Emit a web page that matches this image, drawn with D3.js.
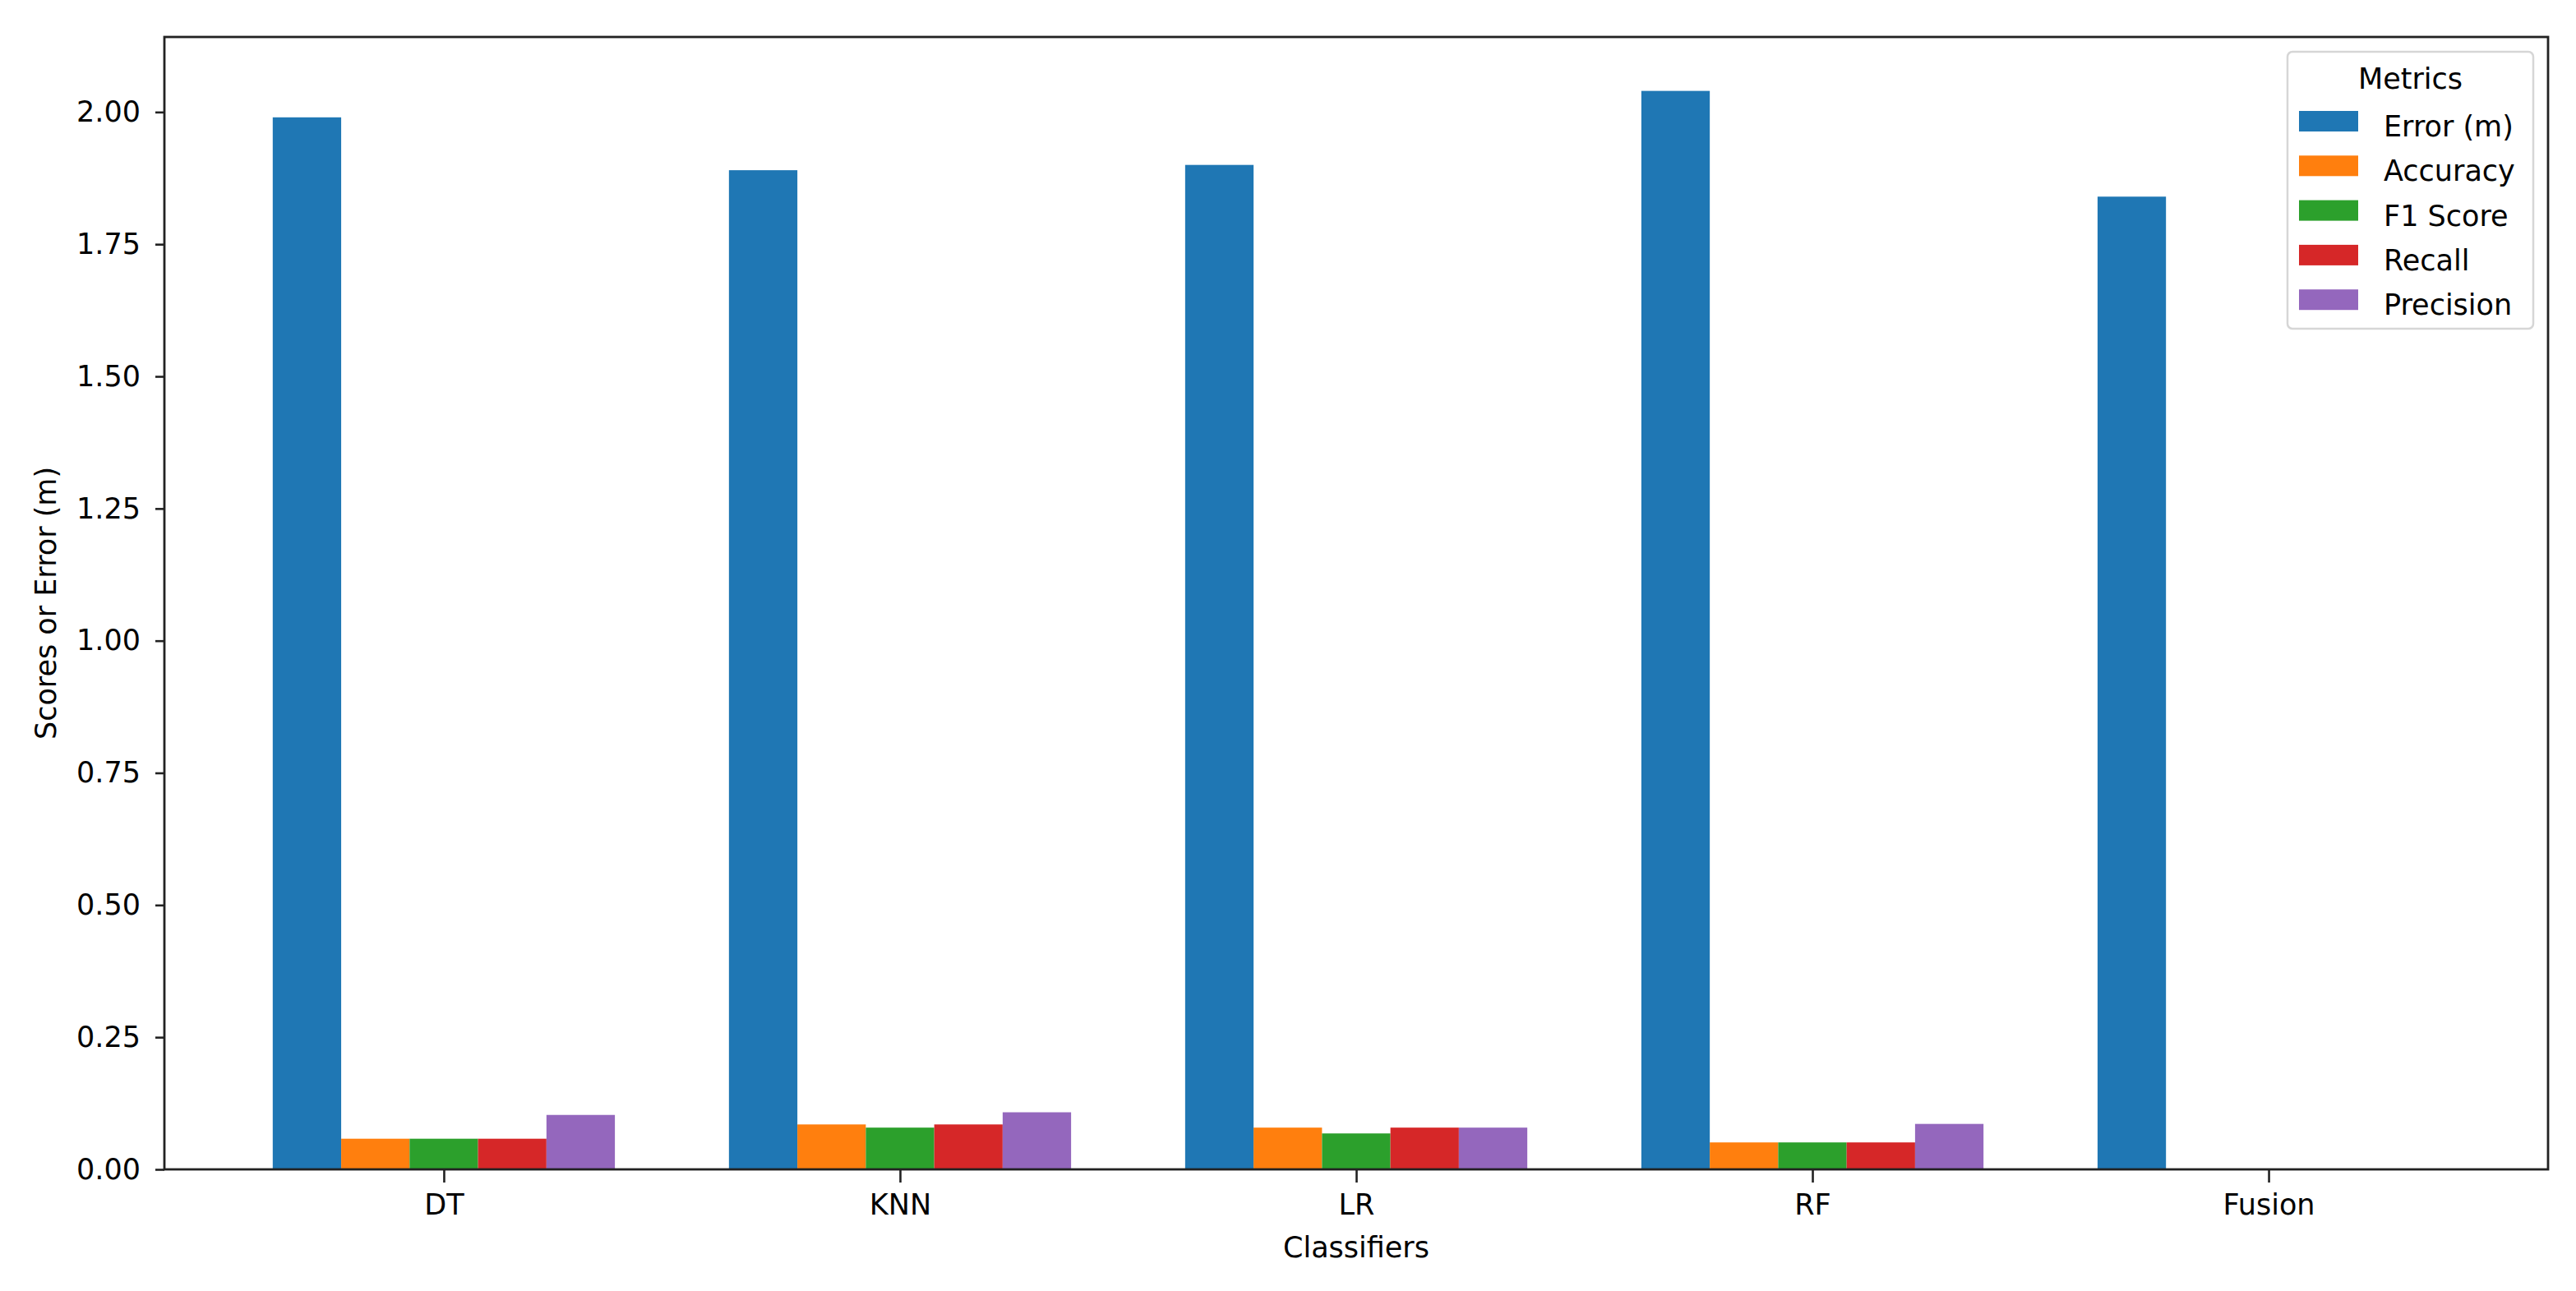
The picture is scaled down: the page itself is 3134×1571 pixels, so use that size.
<!DOCTYPE html>
<html>
<head>
<meta charset="utf-8">
<script src="https://cdn.jsdelivr.net/npm/d3@7"></script>
<style>
  body { margin: 0; background: #fff; }
  text { font-family: "DejaVu Sans", sans-serif; fill: #000; }
</style>
</head>
<body>
<div id="vis"></div>
<script>
// values
var classifiers = ["DT", "KNN", "LR", "RF", "Fusion"];
var metrics = ["Error (m)", "Accuracy", "F1 Score", "Recall", "Precision"];
var errorVals = [1.99, 1.89, 1.90, 2.04, 1.84];
var accuracyVals = [0.058, 0.085, 0.079, 0.051, 0];
var f1Vals = [0.058, 0.079, 0.068, 0.051, 0];
var recallVals = [0.058, 0.085, 0.079, 0.051, 0];
var precisionVals = [0.103, 0.108, 0.079, 0.086, 0];
var yTicks = [0, 0.25, 0.5, 0.75, 1.0, 1.25, 1.5, 1.75, 2.0];
var colors = ["#1f77b4", "#ff7f0e", "#2ca02c", "#d62728", "#9467bd"];

var series = [errorVals, accuracyVals, f1Vals, recallVals, precisionVals];

var width = 3134;
var height = 1571;
var plot = { left: 200, right: 3100, top: 45, bottom: 1423 };
var barW = 0.15;
var fontSize = 35;

var svg = d3.select('#vis')
    .append('svg')
    .attr('width', width)
    .attr('height', height);

// matplotlib style margins: 5% on each side of the bar extent
var lo = -2.5 * barW, hi = classifiers.length - 1 + 2.5 * barW;
var pad = (hi - lo) * 0.05;
var x = d3.scaleLinear()
    .domain([lo - pad, hi + pad])
    .range([plot.left, plot.right]);

var yMax = d3.max(series, (s) => d3.max(s)) * 1.05;
var y = d3.scaleLinear()
    .domain([0, yMax])
    .range([plot.bottom, plot.top]);

// bars
var bars = [];
series.forEach((vals, i) => {
    vals.forEach((v, j) => {
        bars.push({ metric: i, cls: j, value: v });
    });
});

svg.append('g')
    .selectAll('rect')
    .data(bars)
    .enter()
    .append('rect')
    .attr('x', (d) => x(d.cls + (d.metric - 2) * barW - barW / 2))
    .attr('width', x(barW) - x(0))
    .attr('y', (d) => y(d.value))
    .attr('height', (d) => y(0) - y(d.value))
    .attr('fill', (d) => colors[d.metric]);

// axes
var xAxis = d3.axisBottom(x)
    .tickValues(d3.range(classifiers.length))
    .tickFormat((d) => classifiers[d])
    .tickSize(16)
    .tickPadding(14);

var yAxis = d3.axisLeft(y)
    .tickValues(yTicks)
    .tickFormat(d3.format('.2f'))
    .tickSize(11)
    .tickPadding(18);

var gx = svg.append('g')
    .attr('transform', 'translate(0,' + plot.bottom + ')')
    .call(xAxis);

var gy = svg.append('g')
    .attr('transform', 'translate(' + plot.left + ',0)')
    .call(yAxis);

[gx, gy].forEach((g) => {
    g.select('.domain').remove();
    g.selectAll('.tick line').attr('stroke', '#222').attr('stroke-width', 2.6);
    g.selectAll('.tick text')
        .style('font-size', fontSize + 'px')
        .style('font-family', '"DejaVu Sans", sans-serif')
        .attr('fill', '#000');
});

// frame
svg.append('rect')
    .attr('x', plot.left)
    .attr('y', plot.top)
    .attr('width', plot.right - plot.left)
    .attr('height', plot.bottom - plot.top)
    .attr('fill', 'none')
    .attr('stroke', '#222')
    .attr('stroke-width', 2.8);

// axis titles
svg.append('text')
    .attr('x', (plot.left + plot.right) / 2)
    .attr('y', 1530)
    .attr('text-anchor', 'middle')
    .style('font-size', fontSize + 'px')
    .text('Classifiers');

svg.append('text')
    .attr('transform', 'translate(68,' + (plot.top + plot.bottom) / 2 + ') rotate(-90)')
    .attr('text-anchor', 'middle')
    .style('font-size', fontSize + 'px')
    .text('Scores or Error (m)');

// legend
var legend = svg.append('g').attr('transform', 'translate(2783,63)');

legend.append('rect')
    .attr('width', 299)
    .attr('height', 337)
    .attr('rx', 6)
    .attr('fill', '#fff')
    .attr('fill-opacity', 0.8)
    .attr('stroke', '#d6d6d6')
    .attr('stroke-width', 2.5);

legend.append('text')
    .attr('x', 149.5)
    .attr('y', 45)
    .attr('text-anchor', 'middle')
    .style('font-size', fontSize + 'px')
    .text('Metrics');

var items = legend.selectAll('.item')
    .data(metrics)
    .enter()
    .append('g')
    .attr('transform', (d, i) => 'translate(0,' + (72 + i * 54.3) + ')');

items.append('rect')
    .attr('x', 14)
    .attr('width', 72)
    .attr('height', 25)
    .attr('fill', (d, i) => colors[i]);

items.append('text')
    .attr('x', 117)
    .attr('y', 31)
    .style('font-size', fontSize + 'px')
    .text((d) => d);
</script>
</body>
</html>
